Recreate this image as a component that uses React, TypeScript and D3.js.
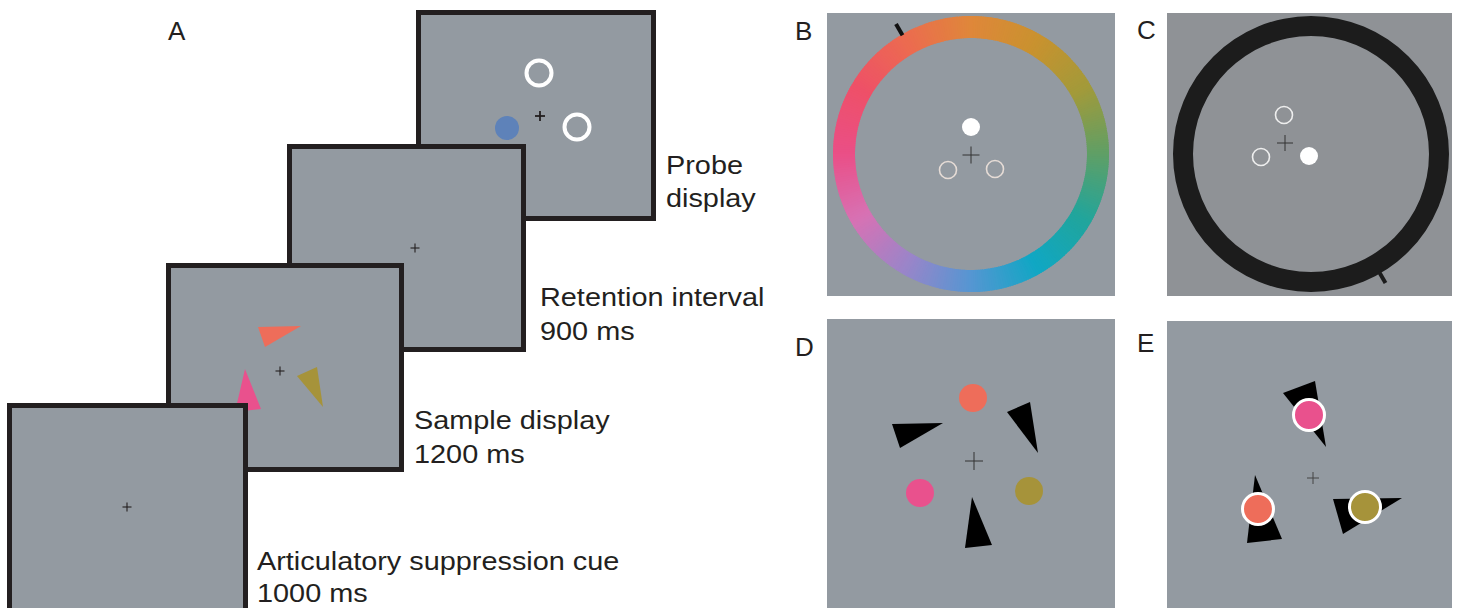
import React from "react";
import * as d3 from "d3";

// ---- content ----
const panelLetters = ["A", "B", "C", "D", "E"];
const frameLabels = [
  ["Articulatory suppression cue", "1000 ms"],
  ["Sample display", "1200 ms"],
  ["Retention interval", "900 ms"],
  ["Probe", "display"],
];
const stimColors = ["#ee6d5a", "#e9518d", "#a6933a"]; // coral, pink, mustard
const probeColor = "#5e82b9";
const wheelAngles = [0, 30, 60, 90, 120, 150, 180, 210, 240, 270, 300, 330, 360];
const wheelColors = [
  "#df873a", "#c9922f", "#a29a3a", "#5f9f66", "#21a59c", "#10a7c4",
  "#5596d2", "#9a85c9", "#d772b4", "#ea4f87", "#ee5068", "#ec6b50", "#df873a",
];

// ---- layout ----
const FONT = "'Liberation Sans', Arial, Helvetica, sans-serif";
const INK = "#231f20";
const SCREEN = "#939aa1";
const SCREEN_C = "#8f9296";
const STRETCH = 1.11;

const frames = [
  { x: 7, y: 403, w: 241, h: 212, cx: 127, cy: 507, lx: 257, ly: 570, gap: 32 },
  { x: 166, y: 263, w: 238, h: 209, cx: 280, cy: 371, lx: 414, ly: 429, gap: 34 },
  { x: 287, y: 144, w: 239, h: 208, cx: 415, cy: 248, lx: 540, ly: 306, gap: 34 },
  { x: 416, y: 10, w: 240, h: 211, cx: 540, cy: 116, lx: 666, ly: 174, gap: 33 },
];

const line = d3.line<[number, number]>();

function Cross({ x, y, s = 5, w = 1.2, c = INK }: any) {
  return (
    <g stroke={c} strokeWidth={w}>
      <line x1={x - s} x2={x + s} y1={y} y2={y} />
      <line x1={x} x2={x} y1={y - s} y2={y + s} />
    </g>
  );
}

function Tri({ pts, fill }: any) {
  return <path d={line(pts) + "Z"} fill={fill} />;
}

export default function App() {
  const wheelColor = d3.scaleLinear<string>().domain(wheelAngles).range(wheelColors).interpolate(d3.interpolateRgb);
  const segs = d3.range(0, 360, 1);
  const arcB = d3.arc<any>().innerRadius(116).outerRadius(138);
  const arcC = d3.arc<any>().innerRadius(118).outerRadius(138)({ startAngle: 0, endAngle: 2 * Math.PI } as any);
  const toRad = (a: number) => (a * Math.PI) / 180;

  const tick = (cx: number, cy: number, ang: number, r0: number, r1: number) => {
    const a = toRad(ang);
    return [
      [cx + r0 * Math.sin(a), cy - r0 * Math.cos(a)],
      [cx + r1 * Math.sin(a), cy - r1 * Math.cos(a)],
    ];
  };
  const tB = tick(971, 154, 330, 137, 150);
  const tC = tick(1311, 154, 150, 136, 149);

  return (
    <svg width={1460} height={608} style={{ position: "absolute", left: 0, top: 0, display: "block", background: "#fff" }}>
      {/* ---------- Panel A ---------- */}
      <text x={168} y={40} fontFamily={FONT} fontSize={26} fill={INK}>{panelLetters[0]}</text>
      {[3, 2, 1, 0].map((i) => {
        const f = frames[i];
        return (
          <g key={i}>
            <rect x={f.x + 2.5} y={f.y + 2.5} width={f.w - 5} height={f.h - 5} fill={SCREEN} stroke={INK} strokeWidth={5} />
            {i === 1 && (
              <g>
                <Tri pts={[[258, 327], [301, 326], [265, 347]]} fill={stimColors[0]} />
                <Tri pts={[[297, 376], [317, 367], [323, 407]]} fill={stimColors[2]} />
                <Tri pts={[[245, 369], [261, 409], [235, 412]]} fill={stimColors[1]} />
              </g>
            )}
            {i === 3 && (
              <g>
                <circle cx={539} cy={73} r={12.5} fill="none" stroke="#fff" strokeWidth={4} />
                <circle cx={577} cy={127} r={12.5} fill="none" stroke="#fff" strokeWidth={4} />
                <circle cx={507} cy={128} r={12} fill={probeColor} />
              </g>
            )}
            <Cross x={f.cx} y={f.cy} s={i === 3 ? 5 : 4.5} w={i === 3 ? 1.8 : 1.1} />
            <g transform={`translate(${f.lx},${f.ly}) scale(${STRETCH},1)`}>
              <text fontFamily={FONT} fontSize={26} fill={INK}>
                <tspan x={0} y={0}>{frameLabels[i][0]}</tspan>
                <tspan x={0} y={f.gap}>{frameLabels[i][1]}</tspan>
              </text>
            </g>
          </g>
        );
      })}

      {/* ---------- Panel B ---------- */}
      <text x={795} y={40} fontFamily={FONT} fontSize={26} fill={INK}>{panelLetters[1]}</text>
      <rect x={827} y={13} width={288} height={283} fill={SCREEN} />
      <g transform="translate(971,154)">
        {segs.map((s) => (
          <path
            key={s}
            d={arcB({ startAngle: toRad(s), endAngle: toRad(s + 1.6) }) as string}
            fill={wheelColor(s + 0.5)}
          />
        ))}
      </g>
      <path d={line(tB as any) as string} stroke="#111" strokeWidth={4} />
      <circle cx={971} cy={127} r={9} fill="#fff" />
      <circle cx={948} cy={170} r={8.5} fill="none" stroke="#e6dcd6" strokeWidth={1.6} />
      <circle cx={995} cy={169} r={8.5} fill="none" stroke="#e6dcd6" strokeWidth={1.6} />
      <Cross x={971} y={155} s={8.5} w={1} c="#333" />

      {/* ---------- Panel C ---------- */}
      <text x={1137} y={39} fontFamily={FONT} fontSize={26} fill={INK}>{panelLetters[2]}</text>
      <rect x={1167} y={13} width={285} height={283} fill={SCREEN_C} />
      <path d={arcC as string} transform="translate(1311,154)" fill="#1c1c1c" />
      <path d={line(tC as any) as string} stroke="#1c1c1c" strokeWidth={4} />
      <circle cx={1284} cy={115} r={8.5} fill="none" stroke="#eee" strokeWidth={1.6} />
      <circle cx={1261} cy={157} r={8.5} fill="none" stroke="#eee" strokeWidth={1.6} />
      <circle cx={1309} cy={156} r={9} fill="#fff" />
      <Cross x={1285} y={143} s={8} w={1} c="#333" />

      {/* ---------- Panel D ---------- */}
      <text x={795} y={356} fontFamily={FONT} fontSize={26} fill={INK}>{panelLetters[3]}</text>
      <rect x={827} y={319} width={288} height={300} fill={SCREEN} />
      <Tri pts={[[892, 424], [943, 423], [900, 448]]} fill="#000" />
      <Tri pts={[[1007, 412], [1030, 402], [1038, 453]]} fill="#000" />
      <Tri pts={[[972, 497], [992, 545], [965, 548]]} fill="#000" />
      <circle cx={973} cy={398} r={14} fill={stimColors[0]} />
      <circle cx={920} cy={493} r={14} fill={stimColors[1]} />
      <circle cx={1029} cy={491} r={14} fill={stimColors[2]} />
      <Cross x={974} y={461} s={9} w={1} c="#333" />

      {/* ---------- Panel E ---------- */}
      <text x={1137} y={352} fontFamily={FONT} fontSize={26} fill={INK}>{panelLetters[4]}</text>
      <rect x={1167} y={321} width={285} height={300} fill={SCREEN} />
      <Tri pts={[[1283, 393], [1315, 381], [1326, 447]]} fill="#000" />
      <Tri pts={[[1255, 475], [1247, 543], [1282, 539]]} fill="#000" />
      <Tri pts={[[1333, 499], [1402, 498], [1343, 534]]} fill="#000" />
      <circle cx={1309} cy={415} r={15.5} fill={stimColors[1]} stroke="#fff" strokeWidth={3} />
      <circle cx={1258} cy={509} r={15.5} fill={stimColors[0]} stroke="#fff" strokeWidth={3} />
      <circle cx={1365} cy={507} r={15.5} fill={stimColors[2]} stroke="#fff" strokeWidth={3} />
      <Cross x={1313} y={478} s={6} w={1} c="#444" />
    </svg>
  );
}
